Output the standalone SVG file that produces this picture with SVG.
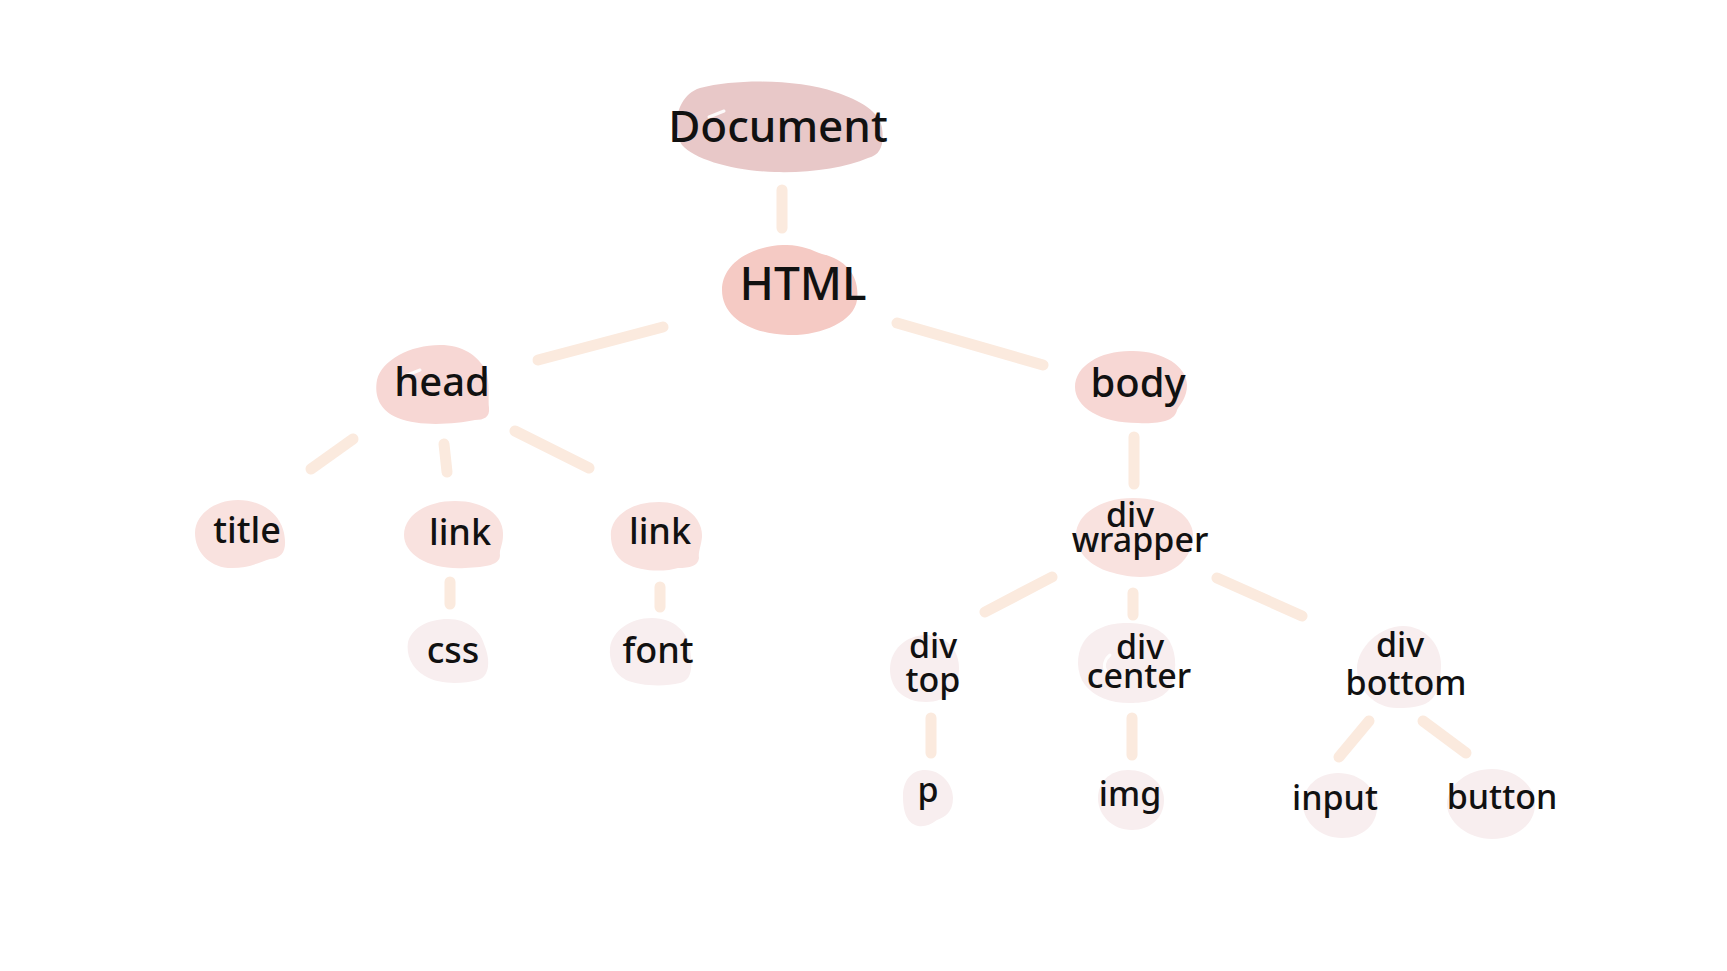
<svg xmlns="http://www.w3.org/2000/svg" width="1727" height="971" viewBox="0 0 1727 971">
<style>
.edge{stroke:#FBEADE;stroke-width:11;stroke-linecap:round;fill:none}
.t{font-family:"Noto Sans","DejaVu Sans",sans-serif;font-weight:500;fill:#111;text-anchor:middle}
.c0{fill:#E8C8C8}
.c1{fill:#F5CAC4}
.c2{fill:#F7D7D4}
.c3{fill:#F9E2DF}
.c4{fill:#F8EEEF}
.hl{stroke:#FFFFFF;stroke-width:3;stroke-linecap:round;fill:none;opacity:0.9}
.s38{font-size:36px}
.s35{font-size:34px}
</style>
<rect width="1727" height="971" fill="#FFFFFF"/>
<g id="connectors">
<line class="edge" x1="782" y1="190" x2="782" y2="228"/>
<line class="edge" x1="663" y1="327" x2="538" y2="360"/>
<line class="edge" x1="897" y1="323" x2="1043" y2="365"/>
<line class="edge" x1="353" y1="439" x2="311" y2="469"/>
<line class="edge" x1="444" y1="444" x2="447" y2="472"/>
<line class="edge" x1="515" y1="431" x2="589" y2="468"/>
<line class="edge" x1="450" y1="582" x2="450" y2="604"/>
<line class="edge" x1="660" y1="587" x2="660" y2="607"/>
<line class="edge" x1="1134" y1="437" x2="1134" y2="484"/>
<line class="edge" x1="1052" y1="577" x2="985" y2="612"/>
<line class="edge" x1="1133" y1="593" x2="1133" y2="615"/>
<line class="edge" x1="1217" y1="578" x2="1302" y2="616"/>
<line class="edge" x1="931" y1="718" x2="931" y2="753"/>
<line class="edge" x1="1132" y1="718" x2="1132" y2="755"/>
<line class="edge" x1="1369" y1="721" x2="1339" y2="757"/>
<line class="edge" x1="1423" y1="721" x2="1466" y2="753"/>
</g>
<g id="node-document">
<path class="c0" d="M 700,88 C 740,78 800,80 835,92 C 860,100 880,112 882,128 C 884,142 882,155 868,158 C 845,168 810,173 775,172 C 735,171 695,160 682,145 C 672,130 675,96 700,88 Z"/>
<path class="hl" d="M 709,117 L 724,111"/>
<text class="t" x="778" y="142" style="font-size:44px">Document</text>
</g>
<g id="node-html">
<path class="c1" d="M 783,245 C 800,244 812,250 822,254 C 848,260 860,278 857,300 C 854,322 820,336 788,335 C 752,334 722,318 722,290 C 722,263 752,246 783,245 Z"/>
<text class="t" x="803" y="300" style="font-size:46px">HTML</text>
</g>
<g id="node-head">
<path class="c2" d="M 440,345 C 462,345 478,355 486,371 C 490,382 488,400 489,408 C 490,417 484,420 475,420 C 455,424 420,427 398,418 C 380,411 374,396 377,380 C 382,360 410,345 440,345 Z"/>
<path class="hl" d="M 405,376 L 420,370"/>
<text class="t" x="442" y="396" style="font-size:40px">head</text>
</g>
<g id="node-body">
<path class="c2" d="M 1130,351 C 1162,350 1187,366 1187,385 C 1187,398 1180,404 1177,410 C 1175,421 1160,424 1138,423 C 1100,423 1075,407 1075,387 C 1075,366 1100,351 1130,351 Z"/>
<text class="t" x="1138" y="397" style="font-size:40px">body</text>
</g>
<g id="node-title">
<path class="c3" d="M 238,500 C 262,500 280,514 284,533 C 287,549 284,558 270,559 C 258,563 246,569 228,568 C 208,566 195,551 195,533 C 195,515 214,500 238,500 Z"/>
<text class="t s38" x="247" y="543">title</text>
</g>
<g id="node-link1">
<path class="c3" d="M 455,501 C 485,501 504,516 503,535 C 503,545 499,550 500,555 C 500,565 487,567 465,568 C 430,570 404,555 404,535 C 404,516 425,501 455,501 Z"/>
<text class="t s38" x="460" y="545">link</text>
</g>
<g id="node-link2">
<path class="c3" d="M 659,502 C 686,502 703,519 702,537 C 701,547 698,552 699,558 C 698,566 690,568 678,568 C 665,572 640,572 625,563 C 614,556 610,544 611,531 C 614,514 633,502 659,502 Z"/>
<text class="t s38" x="660" y="544">link</text>
</g>
<g id="node-css">
<path class="c4" d="M 448,619 C 468,619 480,631 484,644 C 490,658 491,676 478,680 C 462,684 440,685 425,676 C 411,668 406,654 408,642 C 412,628 428,619 448,619 Z"/>
<text class="t s38" x="453" y="663">css</text>
</g>
<g id="node-font">
<path class="c4" d="M 652,618 C 674,618 688,632 690,649 C 692,662 694,680 680,683 C 664,687 640,686 626,680 C 613,673 609,660 610,648 C 612,631 630,618 652,618 Z"/>
<text class="t s38" x="658" y="663">font</text>
</g>
<g id="node-div-wrapper">
<path class="c3" d="M 1133,498 C 1166,498 1193,515 1193,535 C 1193,560 1172,577 1140,577 C 1128,577 1118,574 1110,572 C 1090,566 1076,552 1076,535 C 1076,515 1100,498 1133,498 Z"/>
<text class="t s35"><tspan x="1130" y="527">div</tspan><tspan x="1140" y="552">wrapper</tspan></text>
</g>
<g id="node-div-top">
<path class="c4" d="M 926,635 C 946,635 959,650 959,668 C 959,690 946,702 926,702 C 904,702 890,689 890,669 C 890,650 906,635 926,635 Z"/>
<text class="t s35"><tspan x="933" y="658">div</tspan><tspan x="933" y="692">top</tspan></text>
</g>
<g id="node-div-center">
<path class="c4" d="M 1127,623 C 1145,623 1162,628 1170,642 C 1177,655 1177,675 1170,688 C 1162,700 1145,703 1130,703 C 1110,703 1095,697 1085,685 C 1076,673 1076,655 1083,643 C 1092,628 1110,623 1127,623 Z"/>
<path class="hl" d="M 1110,655 C 1104,660 1103,667 1106,671"/>
<text class="t s35"><tspan x="1140" y="659">div</tspan><tspan x="1139" y="688">center</tspan></text>
</g>
<g id="node-div-bottom">
<path class="c4" d="M 1403,626 C 1425,626 1441,645 1441,665 C 1441,685 1437,698 1425,704 C 1415,708 1405,708 1397,708 C 1375,708 1357,690 1357,668 C 1357,648 1380,626 1403,626 Z"/>
<text class="t s35"><tspan x="1400" y="657">div</tspan><tspan x="1406" y="695">bottom</tspan></text>
</g>
<g id="node-p">
<path class="c4" d="M 925,770 C 942,770 953,785 953,798 C 953,812 945,817 937,820 C 930,825 925,827 918,826 C 905,823 903,808 903,796 C 903,780 912,770 925,770 Z"/>
<text class="t s35" x="928" y="802">p</text>
</g>
<g id="node-img">
<path class="c4" d="M 1128,770 C 1148,770 1164,783 1164,800 C 1164,818 1150,830 1132,830 C 1112,830 1098,815 1098,798 C 1098,782 1110,770 1128,770 Z"/>
<text class="t s35" x="1130" y="806">img</text>
</g>
<g id="node-input">
<path class="c4" d="M 1338,773 C 1360,773 1376,788 1377,805 C 1378,825 1362,838 1342,838 C 1320,838 1303,822 1303,804 C 1303,787 1318,773 1338,773 Z"/>
<text class="t s35" x="1335" y="810">input</text>
</g>
<g id="node-button">
<path class="c4" d="M 1492,769 C 1515,769 1535,785 1535,804 C 1535,824 1517,839 1492,839 C 1468,839 1447,822 1447,804 C 1447,785 1468,769 1492,769 Z"/>
<text class="t s35" x="1502" y="809">button</text>
</g>
</svg>
